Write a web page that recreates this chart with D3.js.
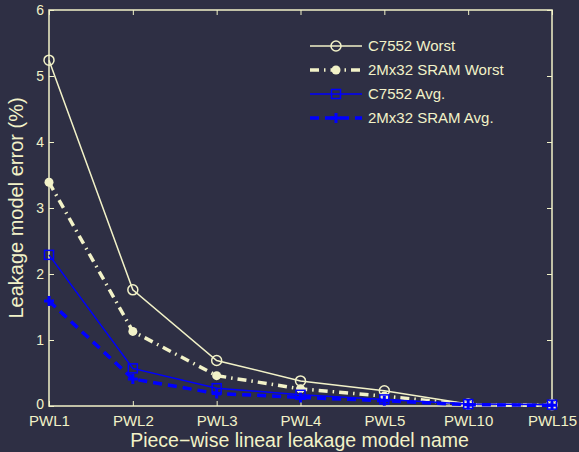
<!DOCTYPE html>
<html>
<head>
<meta charset="utf-8">
<script src="https://cdn.jsdelivr.net/npm/d3@7"></script>
<style>
  body { margin: 0; background: #2e2f44; }
  text { font-family: "Liberation Sans", Arial, sans-serif; fill: #f2f2c8; }
</style>
</head>
<body>
<div id="chart"></div>
<script>
var models = ["PWL1", "PWL2", "PWL3", "PWL4", "PWL5", "PWL10", "PWL15"];
var c7552Worst = [5.24, 1.76, 0.69, 0.38, 0.23, 0.03, 0.02];
var sramWorst = [3.39, 1.13, 0.46, 0.26, 0.15, 0.02, 0.01];
var c7552Avg = [2.29, 0.57, 0.27, 0.17, 0.10, 0.03, 0.02];
var sramAvg = [1.59, 0.41, 0.19, 0.13, 0.08, 0.02, 0.01];
var yTicks = [0, 1, 2, 3, 4, 5, 6];

var fg = "#f2f2c8", blue = "#0000ff";
var totalWidth = 579, totalHeight = 452,
    margin = {top: 10, right: 27, bottom: 46, left: 49},
    width = totalWidth - margin.left - margin.right,
    height = totalHeight - margin.top - margin.bottom;

var x = d3.scalePoint().domain(models).range([0, width]),
    y = d3.scaleLinear().domain([0, 6]).range([height, 0]);

var svg = d3.select("#chart").append("svg")
    .attr("width", totalWidth)
    .attr("height", totalHeight)
    .style("background", "#2e2f44");
var g = svg.append("g")
    .attr("transform", "translate(" + margin.left + "," + margin.top + ")");

// box + inward ticks
function styleAxis(sel, size) {
  sel.selectAll(".domain").remove();
  sel.selectAll("line").attr("stroke", fg);
  sel.selectAll("text").style("font-size", (size || 15) + "px").attr("fill", fg);
}
g.append("g").attr("transform", "translate(0," + height + ")")
  .call(d3.axisBottom(x).tickSizeInner(-5).tickPadding(9)).call(styleAxis, 15);
g.append("g").call(d3.axisTop(x).tickSizeInner(-5).tickFormat("")).call(styleAxis);
var yAxis = g.append("g").call(d3.axisLeft(y).tickValues(yTicks).tickFormat(d3.format("d")).tickSizeInner(-5).tickPadding(5)).call(styleAxis, 14);
// lift the "0" a touch so it clears PWL1
yAxis.selectAll(".tick text").filter(function(d) { return d === 0; }).attr("y", -2);
g.append("g").attr("transform", "translate(" + width + ",0)")
  .call(d3.axisRight(y).tickValues(yTicks).tickSizeInner(-5).tickFormat("")).call(styleAxis);
g.append("rect").attr("width", width).attr("height", height)
  .attr("fill", "none").attr("stroke", fg).attr("stroke-width", 1.5);

var series = [
  {name: "C7552 Worst", values: c7552Worst, color: fg, width: 1.5, dash: null, marker: "circle"},
  {name: "2Mx32 SRAM Worst", values: sramWorst, color: fg, width: 3.5, dash: "9,5,1.5,5", marker: "dot"},
  {name: "C7552 Avg.", values: c7552Avg, color: blue, width: 1.5, dash: null, marker: "square"},
  {name: "2Mx32 SRAM Avg.", values: sramAvg, color: blue, width: 3.5, dash: "9,6", marker: "plus"}
];

function drawMarker(sel, s, cx, cy) {
  if (s.marker === "circle") {
    sel.append("circle").attr("cx", cx).attr("cy", cy).attr("r", 5)
      .attr("fill", "none").attr("stroke", s.color).attr("stroke-width", 1.5);
  } else if (s.marker === "dot") {
    sel.append("circle").attr("cx", cx).attr("cy", cy).attr("r", 4.5)
      .attr("fill", s.color);
  } else if (s.marker === "square") {
    sel.append("rect").attr("x", cx - 4.5).attr("y", cy - 4.5).attr("width", 9).attr("height", 9)
      .attr("fill", "none").attr("stroke", s.color).attr("stroke-width", 1.5);
  } else {
    sel.append("path").attr("d", "M" + (cx - 5) + "," + cy + "h10M" + cx + "," + (cy - 5) + "v10")
      .attr("stroke", s.color).attr("stroke-width", 3);
  }
}

var line = d3.line()
  .x(function(d, i) { return x(models[i]); })
  .y(function(d) { return y(d); });

series.forEach(function(s) {
  g.append("path").datum(s.values)
    .attr("fill", "none")
    .attr("stroke", s.color)
    .attr("stroke-width", s.width)
    .attr("stroke-dasharray", s.dash)
    .attr("d", line);
  var m = g.append("g");
  s.values.forEach(function(v, i) { drawMarker(m, s, x(models[i]), y(v)); });
});

// legend
var leg = svg.append("g");
series.forEach(function(s, i) {
  var ly = 46 + i * 24;
  leg.append("line").attr("x1", 310).attr("x2", 362).attr("y1", ly).attr("y2", ly)
    .attr("stroke", s.color).attr("stroke-width", s.width).attr("stroke-dasharray", s.dash);
  drawMarker(leg, s, 336, ly);
  leg.append("text").attr("x", 368).attr("y", ly).attr("dy", "0.35em")
    .style("font-size", "15px").text(s.name);
});

svg.append("text")
  .attr("x", margin.left + width / 2 - 1).attr("y", 447)
  .style("text-anchor", "middle").style("font-size", "19.5px")
  .text("Piece\u2212wise linear leakage model name");
svg.append("text")
  .attr("transform", "translate(23," + (margin.top + height / 2) + ") rotate(-90)")
  .style("text-anchor", "middle").style("font-size", "20px")
  .text("Leakage model error (%)");
</script>
</body>
</html>
